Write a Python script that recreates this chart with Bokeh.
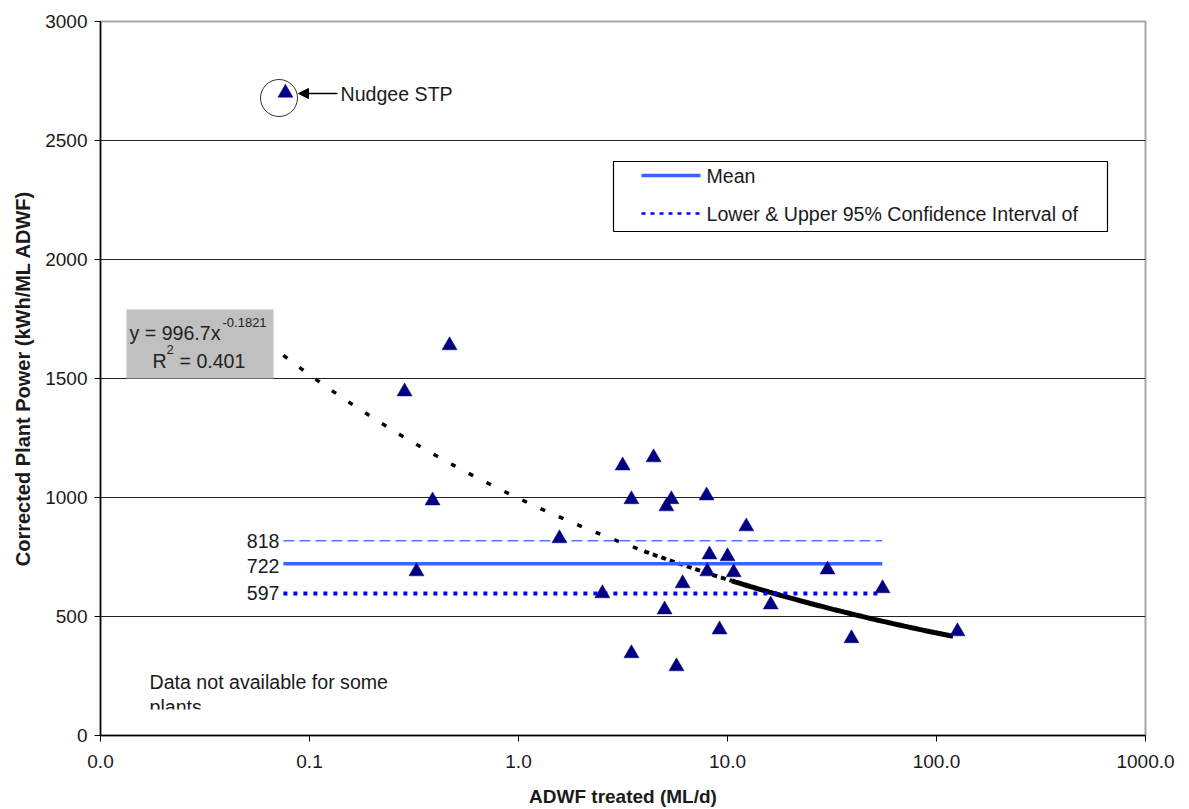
import numpy as np
from bokeh.plotting import figure
from bokeh.models import (FixedTicker, Range1d, Arrow, NormalHead, CustomJSTickFormatter)
from bokeh.core.properties import value
from bokeh.embed import file_html
from bokeh.resources import INLINE

# ---------------- data ----------------
adwf = [0.0767, 0.285, 0.468, 0.388, 0.325, 1.57, 2.52, 3.15, 4.43, 3.47,
        5.39, 5.10, 7.94, 12.3, 8.2, 10.0, 8.0, 10.7, 30.1, 6.1,
        55.2, 5.0, 16.1, 9.16, 39.2, 126.0, 3.47, 5.70]
power = [2700, 1445, 1639, 987, 689, 828, 597, 1134, 1168, 992,
         992, 962, 1008, 878, 760, 752, 689, 685, 697, 639,
         618, 529, 550, 445, 408, 437, 345, 290]

stat_values = [818, 722, 597]
stat_labels = ["818", "722", "597"]
stat_x_span = [0.075, 55.0]

trend_coef = 996.7
trend_exp = -0.1821
trend_x_span = [0.075, 120.0]
trend_breaks = [4.0, 10.5]

x_ticks = [0.01, 0.1, 1, 10, 100, 1000]
x_tick_labels = ["0.0", "0.1", "1.0", "10.0", "100.0", "1000.0"]
y_ticks = [0, 500, 1000, 1500, 2000, 2500, 3000]

x_title = "ADWF treated (ML/d)"
y_title = "Corrected Plant Power (kWh/ML ADWF)"
outlier_name = "Nudgee STP"
note_lines = ["Data not available for some", "plants"]
legend_items = ["Mean", "Lower & Upper 95% Confidence Interval of"]

FONT = "Liberation Sans"
TXT = "19.6px"
INK = "#1a1a1a"

# pixel -> data helpers for annotation placement (frame: x 100..1145, y 21..735)
def dx(px):
    return 10 ** (-2 + (px - 100) / (1045 / 5))

def dy(py):
    return (735 - py) * 3000 / 714

p = figure(width=1189, height=809, x_axis_type="log",
           x_range=Range1d(0.01, 1000), y_range=Range1d(0, 3000),
           output_backend="svg", toolbar_location=None,
           min_border_left=100, min_border_right=44,
           min_border_top=21, min_border_bottom=74)
p.background_fill_color = "white"
p.border_fill_color = "white"
p.outline_line_color = "#a6a6a6"
p.outline_line_width = 2

p.xgrid.visible = False
p.ygrid.ticker = FixedTicker(ticks=y_ticks[1:-1])
p.ygrid.grid_line_color = "#222222"
p.ygrid.grid_line_width = 1.2

for ax in (p.xaxis[0], p.yaxis[0]):
    ax.axis_line_color = "black"
    ax.axis_line_width = 1.5
    ax.major_tick_out = 6
    ax.major_tick_in = 0
    ax.major_tick_line_color = "black"
    ax.minor_tick_line_color = None
    ax.major_label_text_font = FONT
    ax.major_label_text_font_size = "19px"
    ax.major_label_text_color = INK
    ax.axis_label_text_font = FONT
    ax.axis_label_text_font_style = "bold"
    ax.axis_label_text_color = INK

p.yaxis.ticker = FixedTicker(ticks=y_ticks)
p.yaxis.major_label_standoff = 7
p.yaxis.axis_label = y_title
p.yaxis.axis_label_text_font_size = "20px"
p.yaxis.axis_label_standoff = 8

p.xaxis.ticker = FixedTicker(ticks=x_ticks)
p.xaxis.formatter = CustomJSTickFormatter(args=dict(tv=x_ticks, tl=x_tick_labels), code="""
    for (let i = 0; i < tv.length; i++) {
        if (Math.abs(Math.log10(tick) - Math.log10(tv[i])) < 1e-6) return tl[i];
    }
    return "";
""")
p.xaxis.major_label_standoff = 13
p.xaxis.axis_label = x_title
p.xaxis.axis_label_text_font_size = "19px"
p.xaxis.axis_label_standoff = 15

# ---------------- trendline ----------------
def trend(xs):
    return trend_coef * np.power(xs, trend_exp)

seg_bounds = [trend_x_span[0]] + trend_breaks + [trend_x_span[1]]
seg_styles = [dict(line_dash="5 15", line_width=3.5),
              dict(line_dash="5 4", line_width=4),
              dict(line_dash="solid", line_width=5)]
for (a, b), st in zip(zip(seg_bounds[:-1], seg_bounds[1:]), seg_styles):
    xs = np.geomspace(a, b, 60)
    p.line(xs, trend(xs), line_color="black", **st)

# ---------------- mean / CI lines ----------------
stat_styles = [dict(line_color="#4a7bff", line_width=1.5, line_dash="11 5"),
               dict(line_color="#3366ff", line_width=3.5, line_dash="solid"),
               dict(line_color="#0000ff", line_width=4, line_dash="4 6")]
for v, st in zip(stat_values, stat_styles):
    p.line(stat_x_span, [v, v], **st)

p.text(x=[dx(279)] * 3, y=[v - 10 if v == 722 else v for v in stat_values], text=stat_labels,
       text_font=value(FONT), text_font_size=TXT, text_color=INK,
       text_align="right", text_baseline="middle")

# ---------------- points ----------------
p.scatter(adwf, power, marker="triangle", size=15,
          fill_color="#000080", line_color="#000080", line_width=0.5)

# outlier annotation
p.scatter(x=[dx(278.5)], y=[dy(97.5)], marker="circle", size=37,
          fill_color=None, line_color="#333333", line_width=1)
p.add_layout(Arrow(end=NormalHead(size=10, fill_color="black", line_color="black"),
                   x_start=dx(337), y_start=dy(93), x_end=dx(298), y_end=dy(93),
                   line_color="black", line_width=1.5))
p.text(x=[dx(340)], y=[dy(93)], text=[outlier_name], text_font=value(FONT),
       text_font_size=TXT, text_color=INK, text_baseline="middle")

# ---------------- equation box ----------------
p.quad(left=[dx(126)], right=[dx(273)], top=[dy(309)], bottom=[dy(378)],
       fill_color="#c0c0c0", line_color=None)
p.text(x=[dx(129), dx(152), dx(179)], y=[dy(332), dy(360), dy(360)],
       text=["y = 996.7x", "R", "= 0.401"], text_font=value(FONT),
       text_font_size=TXT, text_color="#222222", text_baseline="middle")
p.text(x=[dx(222), dx(166)], y=[dy(322), dy(349)], text=["-0.1821", "2"],
       text_font=value(FONT), text_font_size="13px", text_color="#222222",
       text_baseline="middle")

# ---------------- legend box ----------------
p.quad(left=[dx(613)], right=[dx(1107)], top=[dy(161)], bottom=[dy(231)],
       fill_color="white", line_color="black", line_width=1.2)
p.line([dx(641), dx(700)], [dy(175), dy(175)], line_color="#3366ff", line_width=3.5)
p.line([dx(641), dx(700)], [dy(213), dy(213)], line_color="#0000ff", line_width=2.5,
       line_dash="4 5")
p.text(x=[dx(706), dx(706)], y=[dy(175), dy(213)], text=legend_items,
       text_font=value(FONT), text_font_size=TXT, text_color=INK,
       text_baseline="middle")

# ---------------- note (clipped second line) ----------------
p.text(x=[dx(149), dx(149)], y=[dy(681), dy(706)], text=note_lines,
       text_font=value(FONT), text_font_size=TXT, text_color=INK,
       text_baseline="middle")
p.quad(left=[dx(140)], right=[dx(230)], top=[dy(709)], bottom=[dy(730)],
       fill_color="white", line_color=None)

open("out.html", "w").write(file_html(p, INLINE))
